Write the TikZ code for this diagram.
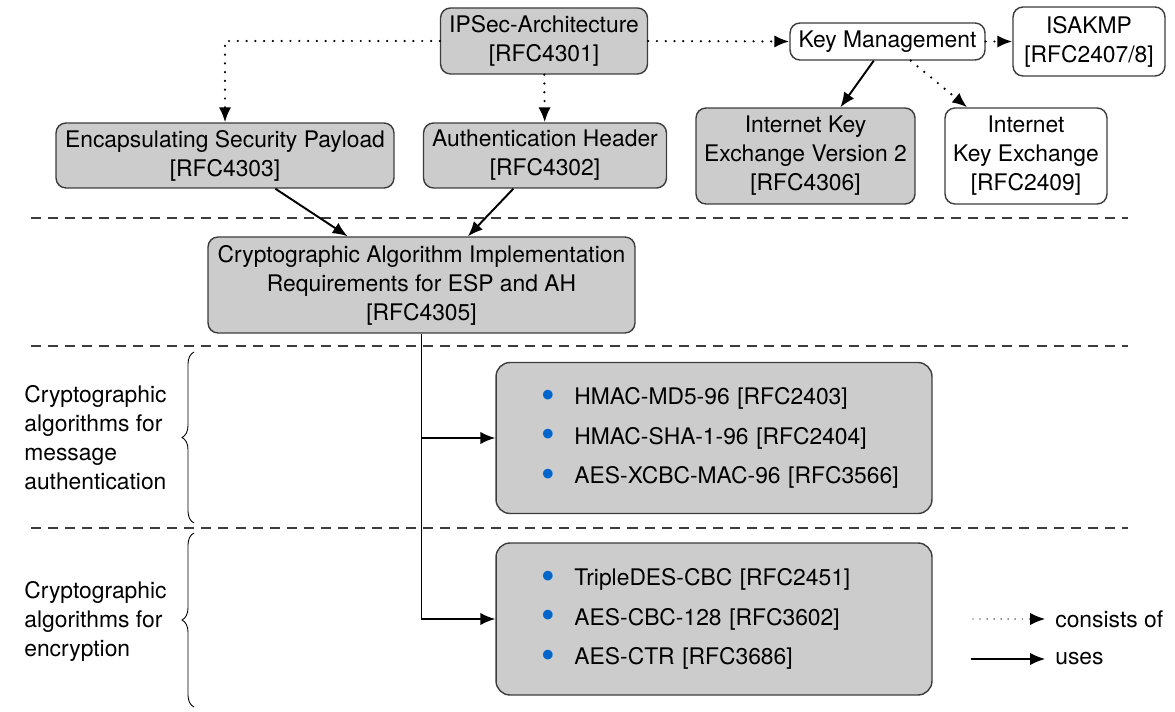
\documentclass[tikz,border=0pt]{standalone}
\usepackage{fontspec}
\setmainfont{TeX Gyre Heros}
\usepackage{xcolor}
\usepackage{tikz}
\usetikzlibrary{arrows.meta, decorations.pathreplacing, positioning}

\definecolor{bulletblue}{RGB}{0,102,204}
\definecolor{framegray}{RGB}{60,60,60}
\newcommand{\algitem}[1]{\mbox{\textcolor{bulletblue}{\raisebox{-0.3ex}{\scalebox{1.7}{\textbullet}}}\hspace{11pt}#1}}

\tikzset{
    rfcbox/.style={draw=framegray, line width=0.8pt, rounded corners=0.2cm, fill=gray!40, align=center, inner sep=2pt},
    rfcwhite/.style={rfcbox, fill=white},
    algbox/.style={rfcbox, rounded corners=0.28cm, align=left, text width=6.9cm, inner xsep=0.91cm, minimum height=3.02cm},
    catlabel/.style={align=left, inner sep=0pt, anchor=west},
    catbrace/.style={decorate, decoration={brace, amplitude=0.24cm}, line width=0.5pt},
    consists/.style={->, line width=1.4pt, dash pattern=on 0pt off 5pt, line cap=round},
    uses/.style={->, line width=1.1pt},
    layerline/.style={framegray, line width=0.8pt, dash pattern=on 5.7pt off 4pt},
    legtext/.style={anchor=west, inner ysep=0pt, inner xsep=0.2cm}
}

\begin{document}
\begin{tikzpicture}[x=0.02cm, y=-0.02cm, >={Latex[length=8.5pt,width=7pt]}, font=\fontsize{13}{16.5}\selectfont]
    \useasboundingbox (0,0) rectangle (1175,712);

    % 1. Architecture and protocols
    \node[rfcbox, minimum width=4.14cm, minimum height=1.32cm] (ipsec) at (544,41) {IPSec-Architecture\\{[RFC4301]}};
    \node[rfcbox, minimum width=6.76cm, minimum height=1.30cm] (esp) at (225,155.5) {Encapsulating Security Payload\\{[RFC4303]}};
    \node[rfcbox, minimum width=4.86cm, minimum height=1.30cm] (ah) at (545,155.5) {Authentication Header\\{[RFC4302]}};

    % 2. Key management
    \node[rfcwhite, minimum width=3.90cm, minimum height=0.74cm] (keymgmt) at (887.5,41.5) {Key Management};
    \node[rfcwhite, minimum width=3.04cm, minimum height=1.38cm] (isakmp) at (1089,41.5) {ISAKMP\\{[RFC2407/8]}};
    \node[rfcbox, minimum width=4.38cm, minimum height=1.92cm] (ikev2) at (805.5,156) {Internet Key\\Exchange Version 2\\{[RFC4306]}};
    \node[rfcwhite, minimum width=3.24cm, minimum height=1.92cm] (ike) at (1026,156) {Internet\\Key Exchange\\{[RFC2409]}};

    % 3. Layer separators
    \foreach \y in {218,346,528} {
        \draw[layerline] (31,\y) -- (1128,\y);
    }

    % 4. Algorithm requirements
    \node[rfcbox, minimum width=8.54cm, minimum height=1.92cm] (crypto) at (421.5,285) {Cryptographic Algorithm Implementation\\Requirements for ESP and AH\\{[RFC4305]}};
    \node[algbox] (authalg) at (714,438) {\algitem{HMAC-MD5-96 [RFC2403]}\\[6pt]\algitem{HMAC-SHA-1-96 [RFC2404]}\\[6pt]\algitem{AES-XCBC-MAC-96 [RFC3566]}};
    \node[algbox, minimum height=3.04cm] (encalg) at (714,619) {\algitem{TripleDES-CBC [RFC2451]}\\[6pt]\algitem{AES-CBC-128 [RFC3602]}\\[6pt]\algitem{AES-CTR [RFC3686]}};

    % 5. Categories with braces
    \node[catlabel] (authcat) at (24,438) {Cryptographic\\algorithms for\\message\\authentication};
    \node[catlabel] (enccat) at (24,621) {Cryptographic\\algorithms for\\encryption};
    \draw[catbrace] (194,523) -- (194,352);
    \draw[catbrace] (194,707) -- (194,533);

    % 6. Connectors
    \draw[consists] (ipsec.west) -| (esp.north);
    \draw[consists] (ipsec) -- (ah);
    \draw[consists] (ipsec.east) -- (keymgmt.west);
    \draw[consists] (keymgmt.east) -- (isakmp.west);
    \draw[uses] (keymgmt) -- (ikev2);
    \draw[consists] (keymgmt) -- (ike);
    \draw[uses] (esp) -- (crypto);
    \draw[uses] (ah) -- (crypto);
    \draw[uses] (crypto.south) |- (authalg.west);
    \draw[uses] (crypto.south) |- (encalg.west);

    % 7. Legend
    \coordinate (legdotstart) at (973,619);
    \coordinate (legusestart) at (971,659);
    \node[legtext] (legconsists) at (1045,619) {consists of};
    \node[legtext] (leguses) at (1045,659) {uses};
    \draw[consists, line width=0.8pt, dash pattern=on 0pt off 4pt] (legdotstart) -- (legconsists.west);
    \draw[uses, line width=0.8pt] (legusestart) -- (leguses.west);
\end{tikzpicture}
\end{document}
